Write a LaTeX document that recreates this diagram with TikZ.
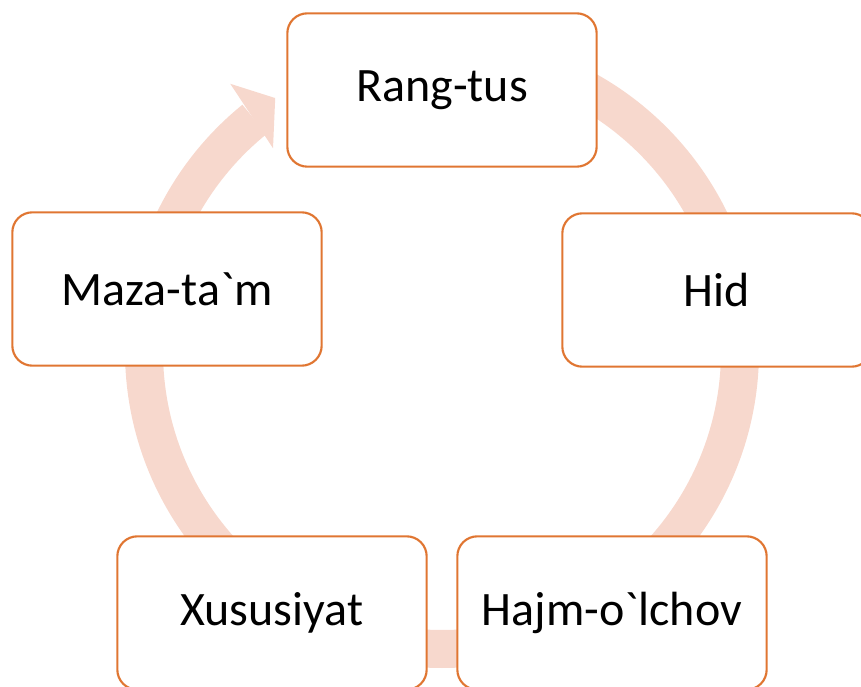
\documentclass[tikz,border=0pt]{standalone}
\usepackage{fontspec}
\setmainfont{Carlito}[Ligatures=TeXOff]
\usepackage{tikz}
\definecolor{boxline}{RGB}{224,118,50}
\definecolor{ringpink}{RGB}{247,216,205}

\begin{document}
\begin{tikzpicture}[x=0.75pt, y=0.75pt, main/.style = {draw=boxline, line width=1.6pt, fill=white, rounded corners=15pt, minimum width=232pt, minimum height=115pt, font=\fontsize{36}{42}\selectfont}, ring/.style = {draw=ringpink, line width=28.5pt}]
        \useasboundingbox (0,0) rectangle (861,686);
        \coordinate (c) at (442,335);
        \draw[ring] ([shift={(90:298)}]c) arc[start angle=90, end angle=-231, radius=298];
        \fill[ringpink] ([shift={(128.4:341)}]c) -- ([shift={(123.4:303)}]c) -- ([shift={(129.8:264)}]c) -- cycle;
        \node[main] (1) at (442,596) {Rang-tus};
        \node[main] (2) at (717,396) {Hid};
        \node[main] (3) at (612,73) {Hajm-o`lchov};
        \node[main] (4) at (272,73) {Xususiyat};
        \node[main] (5) at (167,397) {Maza-ta`m};
    \end{tikzpicture}
\end{document}
